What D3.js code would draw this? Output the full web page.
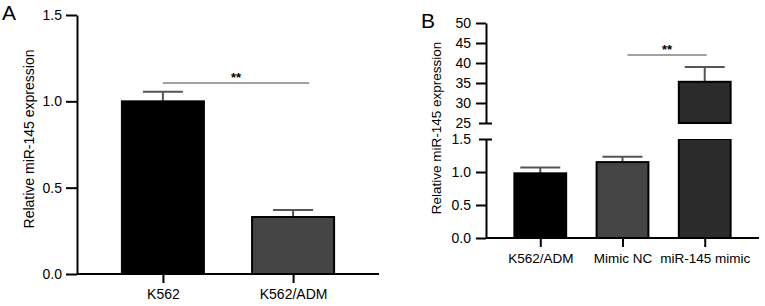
<!DOCTYPE html>
<html>
<head>
<meta charset="utf-8">
<script src="https://cdn.jsdelivr.net/npm/d3@7"></script>
<style>
  body { margin: 0; background: #fff; }
  svg { font-family: "Liberation Sans", Arial, sans-serif; }
</style>
</head>
<body>
<div id="chart"></div>
<script>
// panel A data
const catsA = ["K562", "K562/ADM"];
const valsA = [1.0, 0.33];
const errA = [0.055, 0.04];
const ticksA = [0, 0.5, 1.0, 1.5];

// panel B data
const catsB = ["K562/ADM", "Mimic NC", "miR-145 mimic"];
const valsB = [0.98, 1.15, 35.3];
const errB = [0.09, 0.08, 3.7];
const ticksBLow = [0, 0.5, 1.0, 1.5];
const ticksBHigh = [25, 30, 35, 40, 45, 50];

const fillsA = ["#000000", "#454545"];
const fillsB = ["#000000", "#454545", "#2b2b2b"];

const svg = d3.select("#chart").append("svg")
  .attr("width", 765)
  .attr("height", 306);

function styleAxis(size) {
  return g => {
    g.selectAll("path, line").attr("stroke", "#000").attr("stroke-width", 2);
    g.selectAll("text").attr("fill", "#000").attr("font-size", size)
      .attr("font-family", "\"Liberation Sans\", Arial, sans-serif");
  };
}

// ---------- Panel A ----------
const xA = d3.scalePoint().domain(catsA).range([77, 379]).padding(0.66);
const yA = d3.scaleLinear().domain([0, 1.5]).range([274, 15]);
const bwA = xA.step() * 0.63;

svg.append("g")
  .attr("transform", "translate(77,0)")
  .call(d3.axisLeft(yA).tickValues(ticksA).tickFormat(d3.format(".1f")).tickSize(11).tickPadding(4).tickSizeOuter(0))
  .call(styleAxis(14));

const gA = svg.append("g");
gA.selectAll("line.err").data(catsA).join("line")
  .attr("x1", d => xA(d)).attr("x2", d => xA(d))
  .attr("y1", (d, i) => yA(valsA[i])).attr("y2", (d, i) => yA(valsA[i] + errA[i]))
  .attr("stroke", "#555").attr("stroke-width", 2);
gA.selectAll("line.cap").data(catsA).join("line")
  .attr("x1", d => xA(d) - 20).attr("x2", d => xA(d) + 20)
  .attr("y1", (d, i) => yA(valsA[i] + errA[i])).attr("y2", (d, i) => yA(valsA[i] + errA[i]))
  .attr("stroke", "#555").attr("stroke-width", 2);
gA.selectAll("rect").data(catsA).join("rect")
  .attr("x", d => xA(d) - bwA / 2).attr("width", bwA)
  .attr("y", (d, i) => yA(valsA[i])).attr("height", (d, i) => yA(0) - yA(valsA[i]))
  .attr("fill", (d, i) => fillsA[i]).attr("stroke", "#000").attr("stroke-width", 2);

svg.append("g")
  .attr("transform", "translate(0,274)")
  .call(d3.axisBottom(xA).tickSize(9).tickPadding(6).tickSizeOuter(0))
  .call(styleAxis(14))
  .call(g => g.select(".domain").attr("d", "M77,0H379"));

// significance A
svg.append("line").attr("x1", xA(catsA[0])).attr("x2", xA(catsA[1]) + 16)
  .attr("y1", 83).attr("y2", 83).attr("stroke", "#444").attr("stroke-width", 1);
svg.append("text").attr("x", (xA(catsA[0]) + xA(catsA[1]) + 16) / 2).attr("y", 82)
  .attr("text-anchor", "middle").attr("font-size", 13).attr("font-weight", "bold").text("**");

svg.append("text").attr("transform", "translate(34,139) rotate(-90)")
  .attr("text-anchor", "middle").attr("font-size", 14).text("Relative miR-145 expression");
svg.append("text").attr("x", 2).attr("y", 20).attr("font-size", 21).text("A");

// ---------- Panel B ----------
const xB = d3.scalePoint().domain(catsB).range([486, 759]).padding(0.66);
const yLow = d3.scaleLinear().domain([0, 1.5]).range([238, 139]);
const yHigh = d3.scaleLinear().domain([25, 50]).range([123, 23]);
const bwB = xB.step() * 0.63;

svg.append("g").attr("transform", "translate(486,0)")
  .call(d3.axisLeft(yLow).tickValues(ticksBLow).tickFormat(d3.format(".1f")).tickSize(10).tickPadding(5).tickSizeOuter(0))
  .call(styleAxis(14))
  .call(g => g.selectAll(".tick").filter(d => d === 1.5).select("line").attr("x1", 6).attr("x2", -7));
svg.append("g").attr("transform", "translate(486,0)")
  .call(d3.axisLeft(yHigh).tickValues(ticksBHigh).tickSize(10).tickPadding(5).tickSizeOuter(0))
  .call(styleAxis(14))
  .call(g => g.selectAll(".tick").filter(d => d === 25).select("line").attr("x1", 6).attr("x2", -7));

const gB = svg.append("g");
// y position helper for the broken axis
const yB = v => v <= 1.5 ? yLow(v) : yHigh(v);
gB.selectAll("line.err").data(catsB).join("line")
  .attr("x1", d => xB(d)).attr("x2", d => xB(d))
  .attr("y1", (d, i) => yB(valsB[i])).attr("y2", (d, i) => yB(valsB[i] + errB[i]))
  .attr("stroke", "#555").attr("stroke-width", 2);
gB.selectAll("line.cap").data(catsB).join("line")
  .attr("x1", d => xB(d) - 20).attr("x2", d => xB(d) + 20)
  .attr("y1", (d, i) => yB(valsB[i] + errB[i])).attr("y2", (d, i) => yB(valsB[i] + errB[i]))
  .attr("stroke", "#555").attr("stroke-width", 2);
catsB.forEach((c, i) => {
  const v = valsB[i];
  if (v <= 1.5) {
    gB.append("rect").attr("x", xB(c) - bwB / 2).attr("width", bwB)
      .attr("y", yLow(v)).attr("height", yLow(0) - yLow(v))
      .attr("fill", fillsB[i]).attr("stroke", "#000").attr("stroke-width", 2);
  } else {
    gB.append("rect").attr("x", xB(c) - bwB / 2).attr("width", bwB)
      .attr("y", yLow(1.5)).attr("height", yLow(0) - yLow(1.5))
      .attr("fill", fillsB[i]).attr("stroke", "#000").attr("stroke-width", 2);
    gB.append("rect").attr("x", xB(c) - bwB / 2).attr("width", bwB)
      .attr("y", yHigh(v)).attr("height", yHigh(25) - yHigh(v))
      .attr("fill", fillsB[i]).attr("stroke", "#000").attr("stroke-width", 2);
  }
});
// cover the borders at the break so the bar looks cut
gB.append("rect").attr("x", xB(catsB[2]) - bwB / 2 - 2).attr("width", bwB + 4)
  .attr("y", yHigh(25) + 1).attr("height", yLow(1.5) - yHigh(25) - 1).attr("fill", "#fff");

svg.append("g")
  .attr("transform", "translate(0,238)")
  .call(d3.axisBottom(xB).tickSize(9).tickPadding(6).tickSizeOuter(0))
  .call(styleAxis(13.5))
  .call(g => g.select(".domain").attr("d", "M486,0H759"));

svg.append("line").attr("x1", xB(catsB[1]) + 5).attr("x2", xB(catsB[2]) + 2)
  .attr("y1", 55).attr("y2", 55).attr("stroke", "#444").attr("stroke-width", 1);
svg.append("text").attr("x", (xB(catsB[1]) + xB(catsB[2]) + 7) / 2).attr("y", 54)
  .attr("text-anchor", "middle").attr("font-size", 13).attr("font-weight", "bold").text("**");

svg.append("text").attr("transform", "translate(441,128) rotate(-90)")
  .attr("text-anchor", "middle").attr("font-size", 13.5).text("Relative miR-145 expression");
svg.append("text").attr("x", 421).attr("y", 28).attr("font-size", 21).text("B");
</script>
</body>
</html>
